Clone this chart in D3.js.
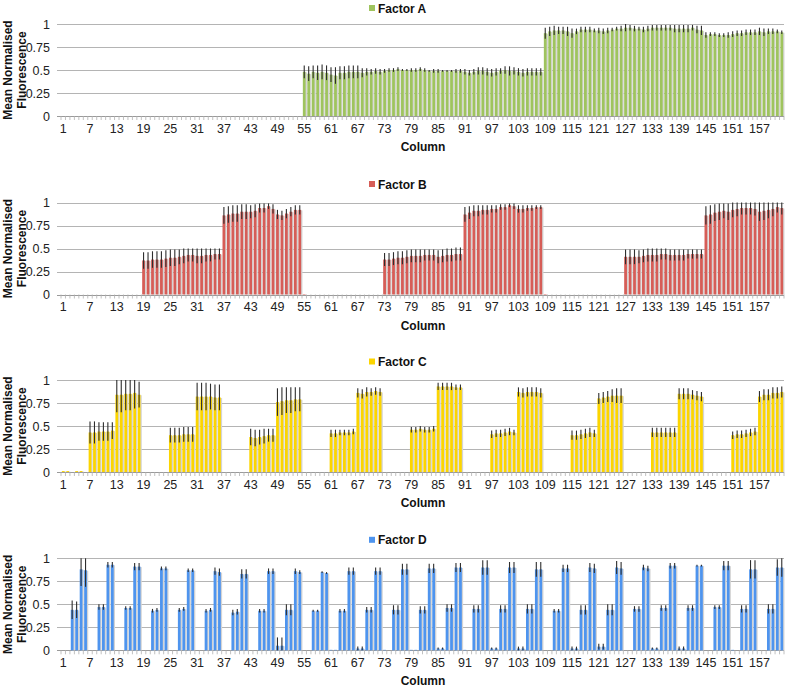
<!DOCTYPE html>
<html><head><meta charset="utf-8">
<script src="https://cdn.jsdelivr.net/npm/d3@7"></script>
<style>
html,body{margin:0;padding:0;background:#fff;}
text{font-family:"Liberation Sans",Arial,sans-serif;}
</style></head>
<body><svg id="chart" width="787" height="688"></svg>
<script>
const columns = d3.range(1, 163);
const tickLabels = [1,7,13,19,25,31,37,43,49,55,61,67,73,79,85,91,97,103,109,115,121,127,133,139,145,151,157];
const yTicks = [0, 0.25, 0.5, 0.75, 1];
const factorNames = ["Factor A","Factor B","Factor C","Factor D"];

const factorA = [
0,0,0,0,0,0,0,0,0,0,0,0,0,0,0,0,0,0,
0,0,0,0,0,0,0,0,0,0,0,0,0,0,0,0,0,0,
0,0,0,0,0,0,0,0,0,0,0,0,0,0,0,0,0,0,
0.48,0.46,0.48,0.47,0.48,0.47,0.45,0.44,0.47,0.47,0.48,0.48,0.48,0.47,0.48,0.48,0.49,0.48,
0.49,0.50,0.50,0.51,0.50,0.50,0.50,0.50,0.51,0.50,0.49,0.49,0.49,0.49,0.49,0.49,0.49,0.49,
0.48,0.47,0.48,0.49,0.49,0.48,0.47,0.48,0.49,0.50,0.49,0.49,0.48,0.47,0.48,0.48,0.48,0.48,
0.90,0.92,0.93,0.93,0.93,0.92,0.90,0.92,0.94,0.94,0.94,0.93,0.93,0.92,0.93,0.94,0.95,0.95,
0.96,0.96,0.95,0.95,0.94,0.95,0.96,0.96,0.96,0.96,0.96,0.95,0.95,0.95,0.95,0.96,0.94,0.93,
0.88,0.89,0.89,0.88,0.88,0.88,0.89,0.90,0.90,0.91,0.91,0.91,0.92,0.91,0.92,0.92,0.92,0.91];
const errA = [
0,0,0,0,0,0,0,0,0,0,0,0,0,0,0,0,0,0,
0,0,0,0,0,0,0,0,0,0,0,0,0,0,0,0,0,0,
0,0,0,0,0,0,0,0,0,0,0,0,0,0,0,0,0,0,
0.07,0.08,0.07,0.08,0.08,0.08,0.08,0.09,0.07,0.07,0.07,0.07,0.07,0.05,0.04,0.03,0.03,0.03,
0.02,0.02,0.02,0.02,0.01,0.01,0.02,0.02,0.02,0.02,0.01,0.02,0.02,0.01,0.01,0.01,0.02,0.02,
0.03,0.03,0.03,0.04,0.04,0.04,0.04,0.04,0.03,0.04,0.05,0.04,0.04,0.04,0.04,0.04,0.04,0.04,
0.06,0.05,0.05,0.04,0.04,0.05,0.05,0.03,0.03,0.03,0.03,0.02,0.03,0.03,0.03,0.02,0.02,0.03,
0.04,0.03,0.03,0.02,0.03,0.03,0.03,0.03,0.03,0.03,0.03,0.04,0.04,0.04,0.04,0.03,0.04,0.05,
0.03,0.02,0.02,0.02,0.02,0.03,0.03,0.03,0.03,0.03,0.03,0.03,0.04,0.04,0.03,0.03,0.02,0.02];

const factorB = [
0,0,0,0,0,0,0,0,0,0,0,0,0,0,0,0,0,0,
0.37,0.37,0.38,0.38,0.38,0.39,0.40,0.40,0.41,0.42,0.43,0.43,0.42,0.42,0.43,0.43,0.44,0.44,
0.86,0.87,0.88,0.88,0.90,0.90,0.90,0.91,0.94,0.94,0.96,0.93,0.87,0.86,0.88,0.90,0.92,0.92,
0.005,0,0,0,0,0,0,0,0,0,0,0,0,0,0,0,0,0,
0.38,0.38,0.39,0.40,0.40,0.41,0.42,0.42,0.42,0.43,0.43,0.43,0.41,0.42,0.43,0.43,0.44,0.44,
0.87,0.89,0.91,0.91,0.92,0.92,0.93,0.93,0.95,0.95,0.97,0.96,0.93,0.93,0.94,0.94,0.95,0.95,
0.005,0,0,0,0,0,0,0,0,0,0,0,0,0,0,0,0,0,
0.41,0.41,0.41,0.41,0.42,0.43,0.43,0.43,0.44,0.44,0.43,0.43,0.43,0.43,0.44,0.44,0.44,0.44,
0.86,0.87,0.89,0.90,0.91,0.90,0.92,0.93,0.94,0.94,0.94,0.93,0.90,0.91,0.92,0.93,0.95,0.94];
const errB = [
0,0,0,0,0,0,0,0,0,0,0,0,0,0,0,0,0,0,
0.09,0.09,0.09,0.09,0.09,0.09,0.09,0.09,0.08,0.08,0.07,0.07,0.08,0.08,0.07,0.07,0.06,0.06,
0.09,0.09,0.09,0.09,0.08,0.08,0.07,0.07,0.05,0.05,0.03,0.05,0.05,0.05,0.05,0.05,0.05,0.05,
0,0,0,0,0,0,0,0,0,0,0,0,0,0,0,0,0,0,
0.07,0.07,0.07,0.07,0.07,0.07,0.07,0.07,0.07,0.06,0.06,0.06,0.07,0.07,0.07,0.07,0.07,0.07,
0.08,0.07,0.06,0.06,0.05,0.05,0.04,0.04,0.03,0.03,0.02,0.03,0.04,0.04,0.03,0.03,0.02,0.02,
0,0,0,0,0,0,0,0,0,0,0,0,0,0,0,0,0,0,
0.08,0.08,0.08,0.07,0.07,0.07,0.07,0.07,0.06,0.06,0.06,0.06,0.06,0.06,0.05,0.05,0.05,0.05,
0.10,0.10,0.09,0.09,0.08,0.09,0.08,0.08,0.07,0.07,0.07,0.07,0.10,0.10,0.09,0.08,0.06,0.07];

const factorC = [
0.01,0.01,0,0.01,0.01,0, 0.43,0.43,0.44,0.44,0.44,0.45, 0.84,0.84,0.85,0.85,0.86,0.84,
0,0,0,0,0,0, 0.40,0.40,0.40,0.41,0.41,0.41, 0.82,0.82,0.82,0.82,0.81,0.81,
0,0,0,0,0,0, 0.38,0.37,0.38,0.39,0.40,0.40, 0.76,0.77,0.78,0.78,0.79,0.79,
0,0,0,0,0,0, 0.42,0.42,0.43,0.43,0.43,0.44, 0.86,0.85,0.87,0.87,0.88,0.87,
0,0,0,0,0,0, 0.46,0.46,0.47,0.46,0.46,0.47, 0.93,0.93,0.93,0.93,0.92,0.92,
0,0,0,0,0,0, 0.41,0.42,0.42,0.43,0.44,0.43, 0.87,0.86,0.87,0.87,0.87,0.86,
0,0,0,0,0,0, 0.40,0.40,0.41,0.42,0.43,0.42, 0.80,0.81,0.82,0.83,0.83,0.83,
0,0,0,0,0,0, 0.43,0.43,0.43,0.43,0.43,0.43, 0.85,0.85,0.85,0.84,0.83,0.82,
0,0,0,0,0,0, 0.40,0.41,0.41,0.42,0.43,0.44, 0.82,0.84,0.84,0.86,0.86,0.87];
const errC = [
0,0,0,0,0,0, 0.12,0.12,0.10,0.10,0.10,0.09, 0.19,0.19,0.18,0.18,0.17,0.14,
0,0,0,0,0,0, 0.08,0.08,0.08,0.08,0.08,0.08, 0.15,0.15,0.15,0.14,0.14,0.14,
0,0,0,0,0,0, 0.09,0.09,0.08,0.08,0.07,0.07, 0.15,0.15,0.14,0.14,0.13,0.13,
0,0,0,0,0,0, 0.04,0.04,0.03,0.03,0.03,0.03, 0.05,0.05,0.05,0.04,0.04,0.04,
0,0,0,0,0,0, 0.03,0.03,0.03,0.03,0.03,0.03, 0.04,0.04,0.04,0.04,0.03,0.03,
0,0,0,0,0,0, 0.04,0.04,0.04,0.04,0.04,0.03, 0.05,0.05,0.05,0.05,0.05,0.05,
0,0,0,0,0,0, 0.05,0.05,0.05,0.05,0.05,0.04, 0.06,0.06,0.06,0.07,0.08,0.08,
0,0,0,0,0,0, 0.05,0.05,0.05,0.05,0.05,0.05, 0.06,0.06,0.06,0.05,0.05,0.05,
0,0,0,0,0,0, 0.04,0.04,0.04,0.04,0.04,0.04, 0.06,0.06,0.06,0.06,0.06,0.06];

const factorD = [
0,0,0.44,0.44,0.88,0.87, 0,0,0.47,0.47,0.93,0.93, 0,0,0.46,0.46,0.91,0.91,
0,0,0.43,0.44,0.89,0.89, 0,0,0.44,0.45,0.87,0.87, 0,0,0.43,0.44,0.86,0.85,
0,0,0.41,0.42,0.83,0.83, 0,0,0.43,0.43,0.86,0.86, 0.05,0.05,0.44,0.44,0.86,0.85,
0,0,0.43,0.43,0.85,0.84, 0.005,0.005,0.43,0.43,0.86,0.86, 0.02,0.02,0.44,0.44,0.86,0.86,
0.005,0,0.44,0.44,0.88,0.88, 0.005,0.005,0.44,0.44,0.89,0.89, 0.02,0.02,0.46,0.46,0.90,0.90,
0.005,0,0.45,0.45,0.90,0.90, 0.02,0.02,0.45,0.45,0.90,0.90, 0.02,0.02,0.45,0.45,0.88,0.88,
0,0,0.43,0.43,0.89,0.89, 0.02,0.02,0.44,0.44,0.90,0.89, 0.04,0.04,0.44,0.44,0.90,0.89,
0,0,0.45,0.45,0.90,0.89, 0.02,0.02,0.46,0.46,0.92,0.92, 0.02,0.02,0.46,0.46,0.92,0.92,
0,0,0.47,0.47,0.92,0.92, 0.005,0,0.45,0.45,0.88,0.88, 0,0,0.45,0.45,0.90,0.90];
const errD = [
0,0,0.10,0.09,0.18,0.18, 0,0,0.03,0.03,0.03,0.03, 0,0,0.02,0.02,0.04,0.04,
0,0,0.02,0.02,0.02,0.02, 0,0,0.02,0.02,0.02,0.02, 0,0,0.02,0.02,0.04,0.04,
0,0,0.03,0.03,0.05,0.05, 0,0,0.02,0.02,0.03,0.03, 0.09,0.09,0.06,0.06,0.03,0.02,
0,0,0.01,0.01,0.01,0.01, 0,0,0.02,0.02,0.04,0.04, 0.02,0.02,0.03,0.03,0.04,0.04,
0,0,0.05,0.05,0.06,0.06, 0,0,0.04,0.04,0.05,0.05, 0.01,0.01,0.04,0.04,0.05,0.05,
0,0,0.04,0.04,0.08,0.08, 0.01,0.01,0.04,0.04,0.06,0.06, 0.02,0.02,0.05,0.05,0.08,0.08,
0,0,0.02,0.02,0.04,0.04, 0.02,0.02,0.05,0.05,0.05,0.05, 0.03,0.03,0.06,0.06,0.07,0.07,
0,0,0.03,0.03,0.03,0.03, 0.01,0.01,0.03,0.03,0.03,0.03, 0.02,0.02,0.03,0.03,0.01,0.01,
0,0,0.02,0.02,0.05,0.05, 0,0,0.04,0.04,0.10,0.10, 0,0,0.05,0.05,0.09,0.10];

const seriesValues = [factorA, factorB, factorC, factorD];
const seriesErrors = [errA, errB, errC, errD];
const colors = ["#9fc45e", "#d65d57", "#fcd500", "#4e94ee"];
const panelTops = [24, 202.5, 380, 558.3];

const svg = d3.select("#chart");
const plotH = 92;
const x = d3.scaleBand().domain(columns).range([61, 784]).paddingInner(0.38).paddingOuter(0.19);

seriesValues.forEach((vals, i) => {
  const top = panelTops[i];
  const y = d3.scaleLinear().domain([0, 1]).range([top + plotH, top]);
  const g = svg.append("g");
  const data = columns.map((c, k) => ({c, v: vals[k], e: seriesErrors[i][k]}));

  // gridlines
  g.selectAll("line.grid").data(yTicks).join("line")
    .attr("x1", 57).attr("x2", 784)
    .attr("y1", d => Math.round(y(d)) + 0.5).attr("y2", d => Math.round(y(d)) + 0.5)
    .attr("stroke", d => d === 0 ? "#9a9a9a" : "#b4b4b4").attr("stroke-width", 1);

  // column boundary ticks
  const step = x.step();
  g.selectAll("line.minor").data(d3.range(0, 163)).join("line")
    .attr("x1", k => x.range()[0] + k * step).attr("x2", k => x.range()[0] + k * step)
    .attr("y1", y(0)).attr("y2", y(0) + 4)
    .attr("stroke", "#b0b0b0").attr("stroke-width", 0.8);

  // bar shadows
  g.selectAll("rect.sh").data(data.filter(d => d.v > 0)).join("rect")
    .attr("x", d => x(d.c) + 1.3).attr("width", x.bandwidth())
    .attr("y", d => y(d.v) + 0.5).attr("height", d => y(0) - y(d.v) - 0.5)
    .attr("fill", "#d4d4d4");

  // bars
  g.selectAll("rect.bar").data(data.filter(d => d.v > 0)).join("rect")
    .attr("x", d => x(d.c)).attr("width", x.bandwidth())
    .attr("y", d => y(d.v)).attr("height", d => y(0) - y(d.v))
    .attr("fill", colors[i]);

  // error bars
  g.selectAll("line.err").data(data.filter(d => d.e > 0)).join("line")
    .attr("x1", d => x(d.c) + x.bandwidth() / 2).attr("x2", d => x(d.c) + x.bandwidth() / 2)
    .attr("y1", d => y(Math.min(1, d.v + d.e))).attr("y2", d => y(Math.max(0, d.v - d.e)))
    .attr("stroke", "#2e2e2e").attr("stroke-width", 1.1);

  // y axis labels
  const yAxis = d3.axisLeft(y).tickValues(yTicks).tickSize(0).tickPadding(5).tickFormat(d => String(d));
  const ya = g.append("g").attr("transform", "translate(55,0)").call(yAxis);
  ya.select(".domain").remove();
  ya.selectAll("text").attr("font-size", 12.5).attr("fill", "#222").style("font-family", "'Liberation Sans', Arial, sans-serif");

  // x axis labels
  const xAxis = d3.axisBottom(x).tickValues(tickLabels).tickSize(0).tickPadding(8);
  const xa = g.append("g").attr("transform", `translate(0,${top + plotH})`).call(xAxis);
  xa.select(".domain").remove();
  xa.selectAll("text").attr("font-size", 12.5).attr("fill", "#222").style("font-family", "'Liberation Sans', Arial, sans-serif");

  // x title
  g.append("text").attr("x", 423).attr("y", top + plotH + 35).attr("text-anchor", "middle")
    .attr("font-size", 12).attr("font-weight", "bold").attr("fill", "#111").text("Column");

  // y title
  const yt = g.append("text").attr("transform", `translate(0,${top + plotH / 2}) rotate(-90)`)
    .attr("text-anchor", "middle").attr("font-size", 12).attr("font-weight", "bold").attr("fill", "#111");
  yt.append("tspan").attr("x", 0).attr("y", 12).text("Mean Normalised");
  yt.append("tspan").attr("x", 0).attr("y", 26).text("Fluorescence");

  // legend
  const ly = i === 0 ? 8 : top - 18.5;
  g.append("rect").attr("x", 369).attr("y", ly - 3).attr("width", 6).attr("height", 6).attr("fill", colors[i]);
  g.append("text").attr("x", 378).attr("y", ly + 4.5).attr("font-size", 12).attr("font-weight", "bold")
    .attr("fill", "#111").text(factorNames[i]);
});
</script></body></html>
